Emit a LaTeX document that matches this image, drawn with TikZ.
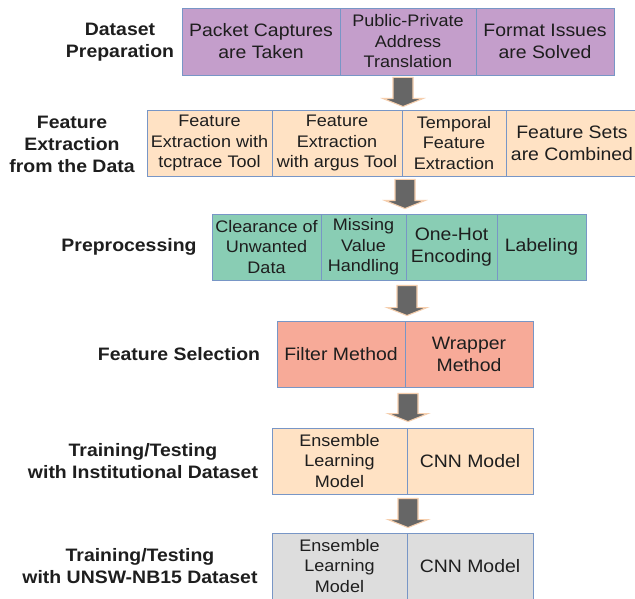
\documentclass[tikz,border=0pt]{standalone}
\usepackage{fontspec}
\setmainfont{Liberation Sans}[FakeStretch=1.08]
\usetikzlibrary{calc}
\definecolor{cpurple}{HTML}{C49ECB}
\definecolor{cpeach}{HTML}{FFE2C4}
\definecolor{cteal}{HTML}{89CDB4}
\definecolor{csalmon}{HTML}{F7AA98}
\definecolor{cgray}{HTML}{DDDDDD}
\definecolor{cborder}{HTML}{7896C6}
\definecolor{carrow}{HTML}{666666}
\definecolor{cglow}{HTML}{F6CFAE}
\definecolor{ctext}{HTML}{1E1E1E}
\tikzset{
  cell/.style={draw=cborder, line width=0.9pt, rectangle, inner sep=0pt, align=center, text=ctext, font=\fontsize{18}{22}\selectfont},
  small/.style={font=\fontsize{16.7}{20.5}\selectfont},
  lab/.style={align=center, text=ctext, inner sep=0pt, font=\bfseries\fontsize{18}{22}\selectfont},
  fatarrow/.style={fill=carrow, draw=cglow, line width=1.1pt, line join=miter}
}
\newcommand\fatarrow[2]{%
  \filldraw[fatarrow] let \p1=(#1), \p2=(#2) in
    (\x1-10pt,\y1) -- (\x1+10pt,\y1) -- (\x1+10pt,\y2+8pt) -- (\x1+20pt,\y2+8pt)
    -- (\x1,\y2) -- (\x1-20pt,\y2+8pt) -- (\x1-10pt,\y2+8pt) -- cycle;}
\begin{document}
\begin{tikzpicture}[x=1pt,y=-1pt]
\useasboundingbox (0,0) rectangle (635,599);
\fill[white] (0,0) rectangle (635,599);
% Row 1
\node[cell, fill=cpurple, minimum width=158pt, minimum height=67pt] (r1a) at (261,41.5) {Packet Captures\\are Taken};
\node[cell, small, fill=cpurple, minimum width=136pt, minimum height=67pt] (r1b) at (408,41.5) {Public-Private\\Address\\Translation};
\node[cell, fill=cpurple, minimum width=138pt, minimum height=67pt] (r1c) at (545,41.5) {Format Issues\\are Solved};
\node[lab] (lab1) at (120,42) {Dataset\\Preparation};
% Row 2
\node[cell, small, fill=cpeach, minimum width=125pt, minimum height=66pt] (r2a) at (209.5,143) {Feature\\Extraction with\\tcptrace Tool};
\node[cell, small, fill=cpeach, minimum width=130pt, minimum height=66pt] (r2b) at (337,143) {Feature\\Extraction\\with argus Tool};
\node[cell, small, fill=cpeach, minimum width=104pt, minimum height=66pt] (r2c) at (454,143) {Temporal\\Feature\\Extraction};
\node[cell, fill=cpeach, minimum width=132pt, minimum height=66pt] (r2d) at (572,143) {Feature Sets\\are Combined};
\node[lab] (lab2) at (72,144) {Feature\\Extraction\\from the Data};
% Row 3
\node[cell, small, fill=cteal, minimum width=109pt, minimum height=66pt] (r3a) at (266.5,247) {Clearance of\\Unwanted\\Data};
\node[cell, small, fill=cteal, minimum width=85pt, minimum height=66pt] (r3b) at (363.5,247) {Missing\\Value\\Handling};
\node[cell, fill=cteal, minimum width=91pt, minimum height=66pt] (r3c) at (451.5,247) {One-Hot\\Encoding};
\node[cell, fill=cteal, minimum width=89pt, minimum height=66pt] (r3d) at (541.5,247) {Labeling};
\node[lab] (lab3) at (129,247) {Preprocessing};
% Row 4
\node[cell, fill=csalmon, minimum width=128pt, minimum height=66pt] (r4a) at (341,354) {Filter Method};
\node[cell, fill=csalmon, minimum width=128pt, minimum height=66pt] (r4b) at (469,354) {Wrapper\\Method};
\node[lab] (lab4) at (179,354) {Feature Selection};
% Row 5
\node[cell, small, fill=cpeach, minimum width=135pt, minimum height=66pt] (r5a) at (339.5,461) {Ensemble\\Learning\\Model};
\node[cell, fill=cpeach, minimum width=126pt, minimum height=66pt] (r5b) at (470,461) {CNN Model};
\node[lab] (lab5) at (143,461) {Training/Testing\\with Institutional Dataset};
% Row 6
\node[cell, small, fill=cgray, minimum width=135pt, minimum height=66pt] (r6a) at (339.5,566) {Ensemble\\Learning\\Model};
\node[cell, fill=cgray, minimum width=126pt, minimum height=66pt] (r6b) at (470,566) {CNN Model};
\node[lab] (lab6) at (140,566) {Training/Testing\\with UNSW-NB15 Dataset};
% Arrows
\coordinate (t1) at ($(403,0 |- r1a.south)+(0,2)$);
\coordinate (h1) at ($(403,0 |- r2a.north)+(0,-3)$);
\coordinate (t2) at ($(405,0 |- r2a.south)+(0,3)$);
\coordinate (h2) at ($(405,0 |- r3a.north)+(0,-5)$);
\coordinate (t3) at ($(407,0 |- r3a.south)+(0,5)$);
\coordinate (h3) at ($(407,0 |- r4a.north)+(0,-5)$);
\coordinate (t4) at ($(408,0 |- r4a.south)+(0,6)$);
\coordinate (h4) at ($(408,0 |- r5a.north)+(0,-6)$);
\coordinate (t5) at ($(408,0 |- r5a.south)+(0,4)$);
\coordinate (h5) at ($(408,0 |- r6a.north)+(0,-5)$);
\fatarrow{t1}{h1}
\fatarrow{t2}{h2}
\fatarrow{t3}{h3}
\fatarrow{t4}{h4}
\fatarrow{t5}{h5}
\end{tikzpicture}
\end{document}
